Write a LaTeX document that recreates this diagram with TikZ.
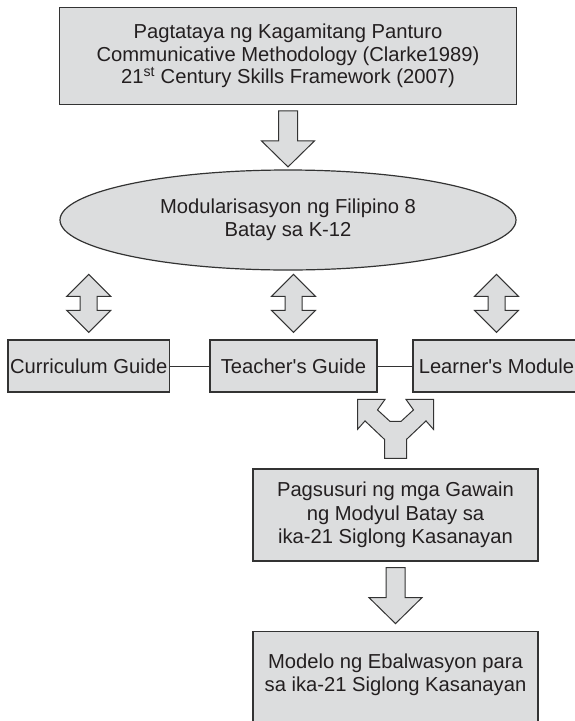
\documentclass[tikz,border=0pt]{standalone}
\usepackage{fontspec}
\setmainfont{Liberation Sans}[Ligatures=TeXOff]
\usetikzlibrary{shapes.geometric,calc}
\definecolor{boxfill}{HTML}{DCDDDE}
\definecolor{boxline}{HTML}{333333}
\definecolor{txt}{HTML}{231F20}
\begin{document}
\begin{tikzpicture}[x=1pt,y=-1pt,
  font=\fontsize{20.2}{23.5}\selectfont, text=txt,
  box/.style={draw=boxline, fill=boxfill, line width=1.2pt, rectangle, inner sep=0pt, align=center},
  oval/.style={draw=boxline, fill=boxfill, line width=1.2pt, ellipse, inner sep=0pt, align=center},
  barrow/.style={draw=boxline, fill=boxfill, line width=1pt, line join=miter},
  link/.style={draw=boxline, line width=1pt},
  downarrow/.pic={\draw[barrow] (-9.5,0) -- (9.5,0) -- (9.5,30) -- (26.5,30) -- (0,56) -- (-26.5,30) -- (-9.5,30) -- cycle;},
  dblarrow/.pic={\draw[barrow] (0,0) -- (22,22) -- (8.5,22) -- (8.5,36) -- (22,36) -- (0,58) -- (-22,36) -- (-8.5,36) -- (-8.5,22) -- (-22,22) -- cycle;},
  splitarrow/.pic={\draw[barrow] (-11,59) -- (-11,40) -- (-30.5,21.5) -- (-38,30) -- (-38,0) -- (-10.5,0) -- (-18,10.5) -- (-5.5,22) -- (5.5,22) -- (18,10.5) -- (10.5,0) -- (38,0) -- (38,30) -- (30.5,21.5) -- (11,40) -- (11,59) -- cycle;}
]
\useasboundingbox (0,0) rectangle (575,721);
\clip (0,0) rectangle (575,721);

% top box
\node[box, minimum width=456.5pt, minimum height=97pt, font=\fontsize{20.2}{22.5}\selectfont] (top) at (288,55.8)
  {Pagtataya ng Kagamitang Panturo\\Communicative Methodology (Clarke1989)\\21\textsuperscript{st} Century Skills Framework (2007)};

% ellipse
\node[oval, minimum width=456pt, minimum height=100pt] (mod) at (288,220)
  {Modularisasyon ng Filipino 8\\Batay sa K-12};

\pic at ($(top.south)+(0,6)$) {downarrow};

% row of boxes
\node[box, minimum width=161.4pt, minimum height=52pt] (cg) at (88.7,366) {Curriculum Guide};
\node[box, minimum width=167pt, minimum height=52pt] (tg) at (293.5,366) {Teacher's Guide};
\node[box, minimum width=167pt, minimum height=52pt] (lm) at (496.5,366) {Learner's Module};

\draw[link] (cg.east) -- (tg.west);
\draw[link] (tg.east) -- (lm.west);

\pic at ($(cg.north)+(0,-65)$) {dblarrow};
\pic at ($(tg.north)+(0,-65)$) {dblarrow};
\pic at ($(lm.north)+(0,-65)$) {dblarrow};

% analysis box
\node[box, minimum width=285pt, minimum height=92pt] (pag) at (395.5,515)
  {Pagsusuri ng mga Gawain\\ng Modyul Batay sa\\ika-21 Siglong Kasanayan};

\pic at ($(pag.north)+(0,-69)$) {splitarrow};

% model box (runs past the lower edge)
\node[box, minimum width=285pt, minimum height=104pt, anchor=north] (model) at (395.5,631) {};
\node[align=center, inner sep=0pt] (modeltxt) at ($(model.north)+(0,44)$)
  {Modelo ng Ebalwasyon para\\sa ika-21 Siglong Kasanayan};

\pic at ($(pag.south)+(0,6)$) {downarrow};
\end{tikzpicture}
\end{document}
